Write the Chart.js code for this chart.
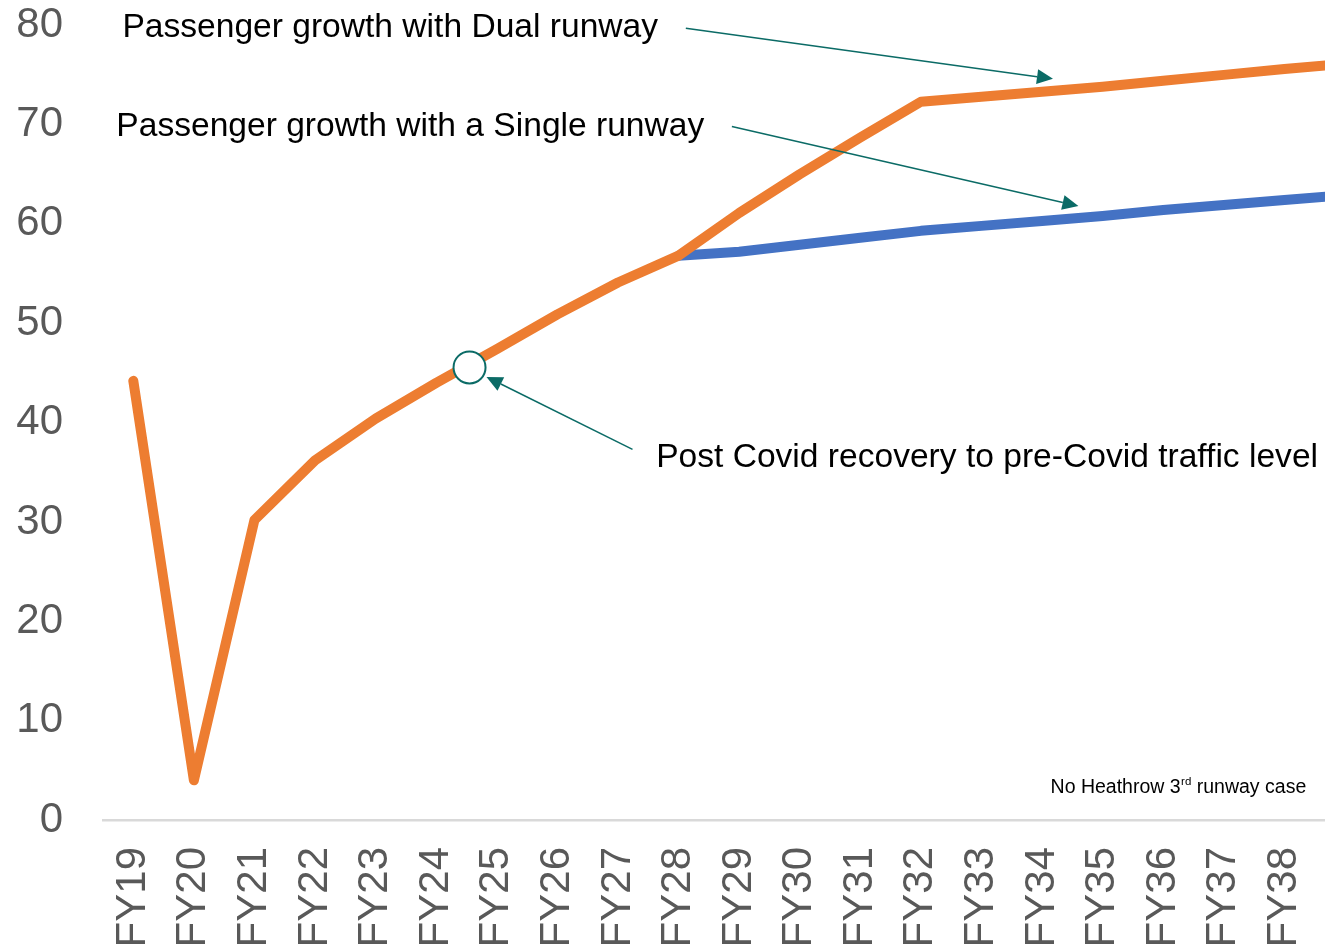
<!DOCTYPE html>
<html>
<head>
<meta charset="utf-8">
<script src="https://cdn.jsdelivr.net/npm/chart.js@4.4.1/dist/chart.umd.min.js"></script>
<style>
  html, body { margin: 0; padding: 0; background: #ffffff; overflow: hidden; }
  #wrap { position: relative; width: 1325px; height: 950px; }
</style>
</head>
<body>
<div id="wrap"><canvas id="c"></canvas></div>
<script>
// ---- Data ----
const categories = ['FY19','FY20','FY21','FY22','FY23','FY24','FY25','FY26','FY27','FY28',
                    'FY29','FY30','FY31','FY32','FY33','FY34','FY35','FY36','FY37','FY38','FY39'];
const dualRunway   = [44.2, 4.0, 30.2, 36.2, 40.4, 44.0, 47.4, 50.9, 54.1, 56.8,
                      61.1, 65.0, 68.7, 72.3, 72.8, 73.3, 73.8, 74.4, 75.0, 75.6, 76.1];
const singleRunway = [null, null, null, null, null, null, null, null, null, 56.8,
                      57.2, 57.9, 58.6, 59.3, 59.8, 60.3, 60.8, 61.4, 61.9, 62.4, 62.9];
const yTicks = [0, 10, 20, 30, 40, 50, 60, 70, 80];

// annotation anchors in data space [category index, value]
const noteDual    = { text: 'Passenger growth with Dual runway', at: [-0.18, 79.7], from: [9.12, 79.7], to: [15.18, 74.6] };
const noteSingle  = { text: 'Passenger growth with a Single runway', at: [-0.28, 69.8], from: [9.88, 69.8], to: [15.6, 61.8] };
const noteCovid   = { text: 'Post Covid recovery to pre-Covid traffic level', at: [8.63, 36.5], from: [8.24, 37.3], to: [5.83, 44.6] };
const covidPoint  = [5.55, 45.55];
const caseNote    = { main: 'No Heathrow 3', sup: 'rd', rest: ' runway case', at: [15.14, 3.25] };

const FONT = '"Liberation Sans", Arial, Helvetica, sans-serif';
const TEAL = '#0b6b66';

function arrow(ctx, x1, y1, x2, y2) {
  ctx.save();
  ctx.strokeStyle = TEAL; ctx.fillStyle = TEAL; ctx.lineWidth = 1.5;
  const ang = Math.atan2(y2 - y1, x2 - x1);
  const hl = 16, hw = 7.5;
  const bx = x2 - hl * Math.cos(ang), by = y2 - hl * Math.sin(ang);
  ctx.beginPath(); ctx.moveTo(x1, y1); ctx.lineTo(bx, by); ctx.stroke();
  ctx.beginPath();
  ctx.moveTo(x2, y2);
  ctx.lineTo(bx + hw * Math.sin(ang), by - hw * Math.cos(ang));
  ctx.lineTo(bx - hw * Math.sin(ang), by + hw * Math.cos(ang));
  ctx.closePath(); ctx.fill();
  ctx.restore();
}

const notesPlugin = {
  id: 'notes',
  afterDatasetsDraw(chart) {
    const ctx = chart.ctx;
    const xs = chart.scales.x, ys = chart.scales.y;
    const P = (p) => [xs.getPixelForValue(p[0]), ys.getPixelForValue(p[1])];
    ctx.save();
    ctx.fillStyle = '#000000';
    ctx.textBaseline = 'middle';
    ctx.textAlign = 'left';
    ctx.font = '33.6px ' + FONT;
    [noteDual, noteSingle, noteCovid].forEach(n => {
      const [tx, ty] = P(n.at);
      ctx.fillText(n.text, tx, ty);
    });
    [noteDual, noteSingle, noteCovid].forEach(n => {
      const [a, b] = P(n.from); const [c, d] = P(n.to);
      arrow(ctx, a, b, c, d);
    });
    const [cx, cy] = P(covidPoint);
    ctx.beginPath(); ctx.arc(cx, cy, 16, 0, Math.PI * 2);
    ctx.fillStyle = '#ffffff'; ctx.fill();
    ctx.lineWidth = 2; ctx.strokeStyle = TEAL; ctx.stroke();
    const [nx, ny] = P(caseNote.at);
    ctx.fillStyle = '#000000';
    ctx.font = '19.5px ' + FONT;
    ctx.fillText(caseNote.main, nx, ny);
    let w = ctx.measureText(caseNote.main).width;
    ctx.font = '11.5px ' + FONT;
    ctx.fillText(caseNote.sup, nx + w + 0.5, ny - 6);
    w += ctx.measureText(caseNote.sup).width + 0.5;
    ctx.font = '19.5px ' + FONT;
    ctx.fillText(caseNote.rest, nx + w, ny);
    ctx.restore();
  }
};

const xMin = -0.5, xMax = 19.67;

new Chart(document.getElementById('c'), {
  type: 'line',
  data: {
    datasets: [
      {
        label: 'Dual runway',
        data: dualRunway.map((v, i) => ({ x: i, y: v })),
        borderColor: '#ED7D31',
        borderWidth: 10,
        borderJoinStyle: 'round',
        borderCapStyle: 'round',
        pointRadius: 0,
        tension: 0,
        order: 1
      },
      {
        label: 'Single runway',
        data: singleRunway.map((v, i) => ({ x: i, y: v })),
        borderColor: '#4472C4',
        borderWidth: 10,
        borderJoinStyle: 'round',
        borderCapStyle: 'round',
        pointRadius: 0,
        tension: 0,
        spanGaps: false,
        order: 2
      }
    ]
  },
  options: {
    responsive: true,
    maintainAspectRatio: false,
    animation: false,
    layout: { padding: { top: 24, left: 0, right: 0, bottom: 0 } },
    plugins: { legend: { display: false }, tooltip: { enabled: false } },
    scales: {
      x: {
        type: 'linear',
        min: xMin,
        max: xMax,
        grid: { display: true, drawOnChartArea: false, drawTicks: true, tickLength: 27, color: 'rgba(0,0,0,0)' },
        border: { display: true, color: '#d9d9d9', width: 2.5 },
        afterBuildTicks(scale) {
          scale.ticks = categories.map((c, i) => ({ value: i })).filter(t => t.value <= xMax);
        },
        afterFit(scale) { scale.height = 130; scale.paddingRight = 0; scale.paddingLeft = 0; },
        ticks: {
          autoSkip: false,
          minRotation: 90,
          maxRotation: 90,
          padding: 0,
          color: '#595959',
          font: { family: FONT, size: 42 },
          callback: (v) => categories[v]
        }
      },
      y: {
        min: 0,
        max: 80,
        grid: { display: true, drawOnChartArea: false, drawTicks: true, tickLength: 40, color: 'rgba(0,0,0,0)' },
        border: { display: false },
        afterBuildTicks(scale) { scale.ticks = yTicks.map(v => ({ value: v })); },
        afterFit(scale) { scale.width = 103; },
        ticks: {
          padding: 0,
          color: '#595959',
          font: { family: FONT, size: 42 }
        }
      }
    }
  },
  plugins: [notesPlugin]
});
</script>
</body>
</html>
